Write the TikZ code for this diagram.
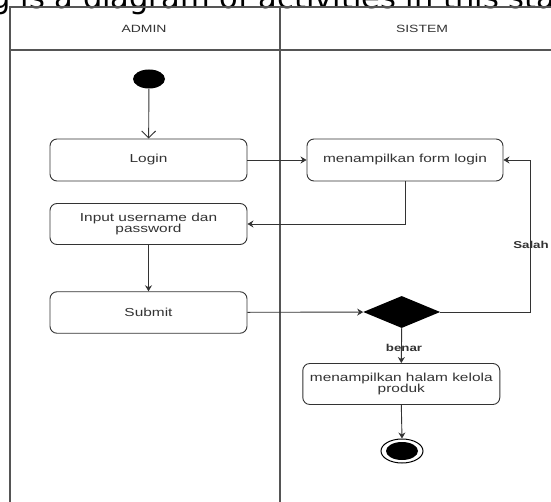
\documentclass[tikz,border=0pt]{standalone}
\usepackage{fontspec}
\usetikzlibrary{shapes.geometric,arrows.meta}
\newfontfamily\wide[FakeStretch=1.33]{Liberation Sans}
\newfontfamily\captionfont{DejaVu Sans}
\definecolor{ink}{HTML}{333333}
\definecolor{lane}{HTML}{555555}
\newlength\leadw
\settowidth{\leadw}{\captionfont\fontsize{30.5}{36}\selectfont The followi}
\tikzset{
  act/.style={draw=ink, line width=0.9pt, rounded corners=7pt, fill=white,
    minimum width=197pt, minimum height=42pt, inner sep=1pt, align=center,
    text=ink, font=\wide\fontsize{11.6}{11}\selectfont},
  arr/.style={draw=ink, line width=0.9pt, -{Stealth[length=6pt,width=7pt]}},
  lbl/.style={text=ink, inner sep=0pt, font=\wide\bfseries\fontsize{10}{12}\selectfont},
  lanehead/.style={text=ink, font=\wide\fontsize{10.5}{12}\selectfont},
}
\begin{document}
\begin{tikzpicture}[x=1pt,y=-1pt]
\useasboundingbox (0,0) rectangle (551,502);
\clip (0,0) rectangle (551,502);
\fill[white] (0,0) rectangle (551,502);

% caption line above the diagram
\node[anchor=base west, inner sep=0pt, font=\captionfont\fontsize{30.5}{36}\selectfont]
  (caption) at ({-28pt-\leadw},{-9pt}) {The following is a diagram of activities in this stage};

% swimlanes
\draw[lane, line width=1.3pt] (10,520) -- (10,7) -- (570,7) -- (570,520);
\draw[lane, line width=1.1pt] (10,50) -- (570,50);
\draw[lane, line width=1.6pt] (280,7) -- (280,520);
\node[lanehead] (admin) at (144,29) {ADMIN};
\node[lanehead] (sistem) at (422,29) {SISTEM};

% activities
\node[ellipse, fill=black, minimum width=32pt, minimum height=19pt, inner sep=0pt] (start) at (149,79) {};
\node[act] (login) at (148.5,160) {Login};
\node[act, minimum height=41pt] (input) at (148.5,224) {Input username dan\\password};
\node[act, minimum height=41.5pt] (submit) at (148.5,312.5) {Submit};
\node[act, minimum width=196pt] (form) at (405,160) {menampilkan form login};
\node[diamond, fill=black, minimum width=77pt, minimum height=32pt, inner sep=0pt] (dec) at (401.7,312) {};
\node[act, minimum height=41pt] (halam) at (401.3,384) {menampilkan halam kelola\\produk};
\node[ellipse, draw=black, line width=1pt, fill=white, minimum width=42pt, minimum height=24pt, inner sep=0pt] (end) at (402,451) {};
\node[ellipse, fill=black, minimum width=32pt, minimum height=18pt, inner sep=0pt] (endcore) at (402,451) {};

% flows
\draw[draw=ink, line width=0.9pt, -{Straight Barb[length=7pt,width=14pt]}] (start) -- (login);
\draw[arr] (login) -- (form);
\draw[arr] (form.south) |- (input.east);
\draw[arr] (input) -- (submit);
\draw[arr] (submit) -- (dec);
\coordinate (back) at (530,160);
\draw[arr] (dec.east) -| (back) -- (form.east);
\node[lbl] (salah) at (531,245) {Salah};
\draw[arr] (dec.south) -- (halam.north);
\node[lbl] (benar) at (404,348) {benar};
\draw[arr] (halam.south) -- (end.north);
\end{tikzpicture}
\end{document}
